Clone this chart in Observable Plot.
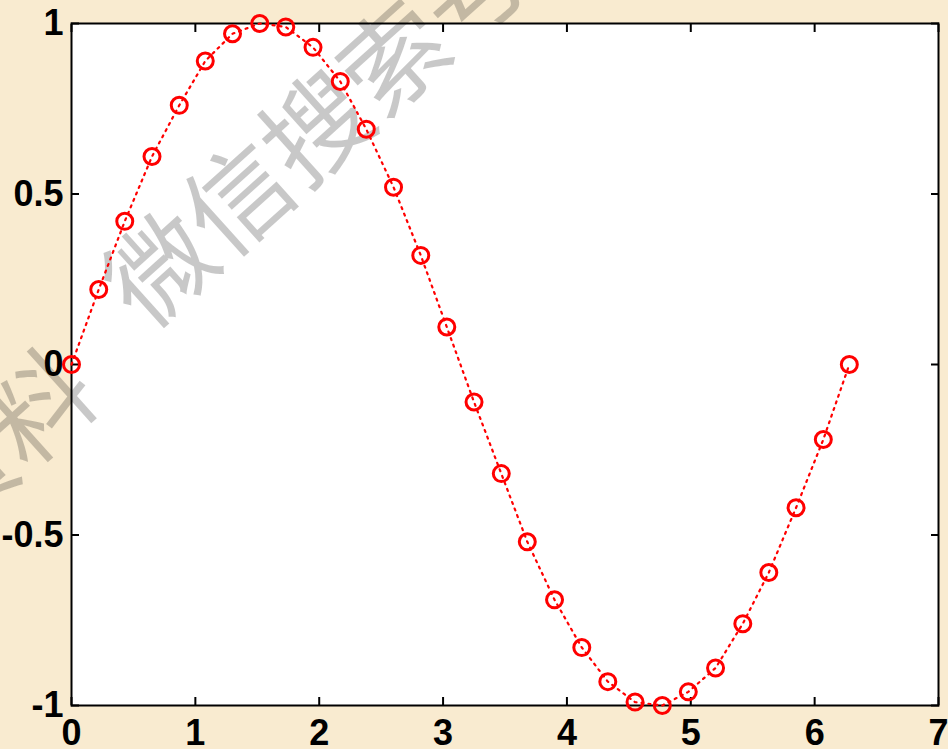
<!DOCTYPE html>
<html><head><meta charset="utf-8">
<script src="https://cdn.jsdelivr.net/npm/d3@7"></script>
<script src="https://cdn.jsdelivr.net/npm/@observablehq/plot@0.6"></script>
<style>
html,body{margin:0;padding:0;background:#f9ebd0;overflow:hidden;}
#chart svg{display:block;}
</style></head><body><div id="chart"></div>
<script>
const xValues = [0, 0.22, 0.43, 0.65, 0.87, 1.08, 1.30, 1.52, 1.73, 1.95,
  2.17, 2.38, 2.60, 2.82, 3.03, 3.25, 3.47, 3.68, 3.90, 4.12,
  4.33, 4.55, 4.77, 4.98, 5.20, 5.42, 5.63, 5.85, 6.07, 6.28];
const yValues = [0, 0.22, 0.42, 0.61, 0.76, 0.89, 0.97, 1.00, 0.99, 0.93,
  0.83, 0.69, 0.52, 0.32, 0.11, -0.11, -0.32, -0.52, -0.69, -0.83,
  -0.93, -0.99, -1.00, -0.96, -0.89, -0.76, -0.61, -0.42, -0.22, 0];
const xTicks = [0, 1, 2, 3, 4, 5, 6, 7];
const yTicks = [-1, -0.5, 0, 0.5, 1];
const watermarkParts = ["资料", "微信搜索号"];

const data = xValues.map((x, i) => ({x, y: yValues[i]}));
const fmt = d => String(d);
const none = () => "";
const labelFont = {fontSize: 36, fontWeight: "bold"};
const wmStyle = {
  rotate: -42, lineAnchor: "middle", fontSize: 105, fontWeight: "normal",
  fontFamily: "'Noto Sans CJK SC', sans-serif", fill: "black", fillOpacity: 0.215
};

const chart = Plot.plot({
  width: 948,
  height: 749,
  marginLeft: 71,
  marginRight: 10,
  marginTop: 23,
  marginBottom: 44,
  style: {background: "#f9ebd0", fontFamily: "'Liberation Sans', Arial, sans-serif", fontSize: "36px", fontWeight: "bold", color: "black"},
  x: {domain: [0, 7]},
  y: {domain: [-1, 1]},
  marks: [
    Plot.frame({fill: "white", stroke: null}),
    Plot.text([watermarkParts[0]], {text: d => d, frameAnchor: "top-left", dx: 10, dy: 352, textAnchor: "end", ...wmStyle}),
    Plot.text([watermarkParts[1]], {text: d => d, frameAnchor: "top-left", dx: 53, dy: 284, textAnchor: "start", ...wmStyle}),
    Plot.frame({stroke: "black", strokeWidth: 2}),
    Plot.axisX({ticks: xTicks, tickSize: 8, dy: -8, tickFormat: none, label: null, strokeWidth: 2}),
    Plot.axisX({anchor: "top", ticks: xTicks, tickSize: 8, dy: 8, tickFormat: none, label: null, strokeWidth: 2}),
    Plot.axisY({ticks: yTicks, tickSize: 8, dx: 8, tickFormat: none, label: null, strokeWidth: 2}),
    Plot.axisY({anchor: "right", ticks: yTicks, tickSize: 8, dx: -8, tickFormat: none, label: null, strokeWidth: 2}),
    Plot.axisX({ticks: xTicks, tickSize: 0, tickPadding: 14, tickFormat: fmt, label: null, ...labelFont}),
    Plot.axisY({ticks: yTicks, tickSize: 0, tickPadding: 8, tickFormat: fmt, label: null, ...labelFont}),
    Plot.line(data, {x: "x", y: "y", stroke: "red", strokeWidth: 2.2, strokeDasharray: "2,5"}),
    Plot.dot(data, {x: "x", y: "y", r: 8, stroke: "red", strokeWidth: 3, fill: "none"})
  ]
});
document.getElementById("chart").appendChild(chart);
</script></body></html>
